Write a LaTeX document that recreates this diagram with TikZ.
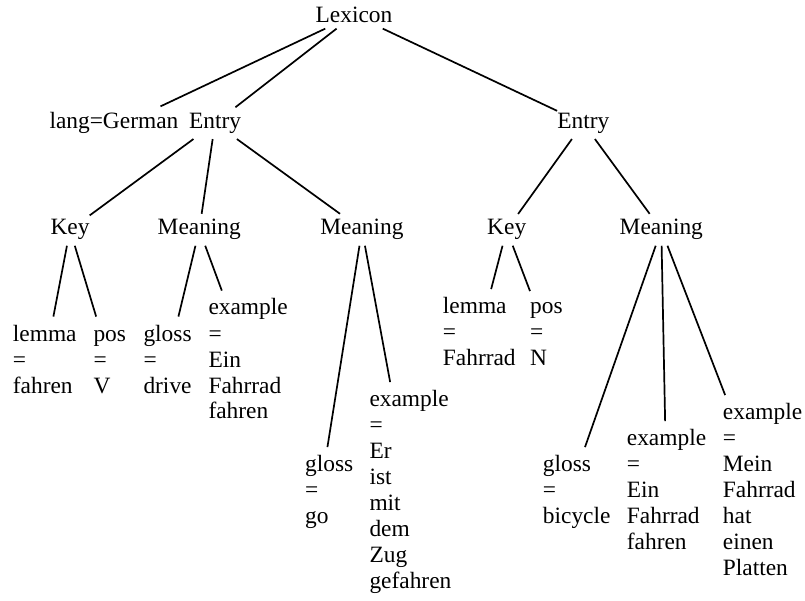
\documentclass[tikz,border=0pt]{standalone}
\usepackage{fontspec}
\setmainfont{Liberation Serif}
\newcommand\stk[1]{\begin{tabular}[t]{@{}l@{}}#1\end{tabular}}
\tikzset{
  txt/.style={inner xsep=0pt, inner ysep=5.5pt, font=\fontsize{23.4}{26}\selectfont},
  inode/.style={txt, anchor=base},
  leaf/.style={txt, anchor=base west, inner ysep=6pt},
  link/.style={line width=1.7pt}
}
\begin{document}
\begin{tikzpicture}[x=1pt,y=-1pt]
\useasboundingbox (0,0) rectangle (805,601);
% internal nodes
\node[inode] (lex) at (354,22.7) {Lexicon};
\node[inode, anchor=base west] (lang) at (49.3,128.3) {lang=German\hspace*{24pt}};
\node[inode] (e1) at (215,128.3) {Entry};
\node[inode] (e2) at (583.3,128.3) {Entry};
\node[inode] (k1) at (70,235) {Key};
\node[inode] (m1) at (199.3,235) {Meaning};
\node[inode] (m2) at (362,235) {Meaning};
\node[inode] (k2) at (506.7,235) {Key};
\node[inode] (m3) at (661.3,235) {Meaning};
% leaves
\node[leaf] (l1) at (12.7,341) {\stk{lemma\\=\\fahren}};
\node[leaf] (p1) at (93.3,341) {\stk{pos\\=\\V}};
\node[leaf] (g1) at (143.3,341) {\stk{gloss\\=\\drive}};
\node[leaf] (x1) at (208.3,315) {\stk{example\\=\\Ein\\Fahrrad\\fahren}};
\node[leaf] (g2) at (287,471.5) {\hspace*{18pt}\stk{gloss\\=\\go}};
\node[leaf] (x2) at (369.3,406.5) {\stk{example\\=\\Er\\ist\\mit\\dem\\Zug\\gefahren}};
\node[leaf] (l2) at (442.7,313.5) {\stk{lemma\\=\\Fahrrad}};
\node[leaf] (p2) at (530,313.5) {\stk{pos\\=\\N}};
\node[leaf] (g3) at (527.7,471.5) {\hspace*{15pt}\stk{gloss\\=\\bicycle}};
\node[leaf] (x3) at (626.7,445.5) {\stk{example\\=\\Ein\\Fahrrad\\fahren}};
\node[leaf] (x4) at (722.7,419.5) {\stk{example\\=\\Mein\\Fahrrad\\hat\\einen\\Platten}};
% edges
\draw[link] (lex) -- (lang);
\draw[link] (lex) -- (e1);
\draw[link] (lex) -- (e2);
\draw[link] (e1) -- (k1);
\draw[link] (e1) -- (m1);
\draw[link] (e1) -- (m2);
\draw[link] (e2) -- (k2);
\draw[link] (e2) -- (m3);
\draw[link] (k1) -- (l1);
\draw[link] (k1) -- (p1);
\draw[link] (m1) -- (g1);
\draw[link] (m1) -- (x1);
\draw[link] (m2) -- (g2);
\draw[link] (m2) -- (x2);
\draw[link] (k2) -- (l2);
\draw[link] (k2) -- (p2);
\draw[link] (m3) -- (g3);
\draw[link] (m3) -- (x3);
\draw[link] (m3) -- (x4);
\end{tikzpicture}
\end{document}
